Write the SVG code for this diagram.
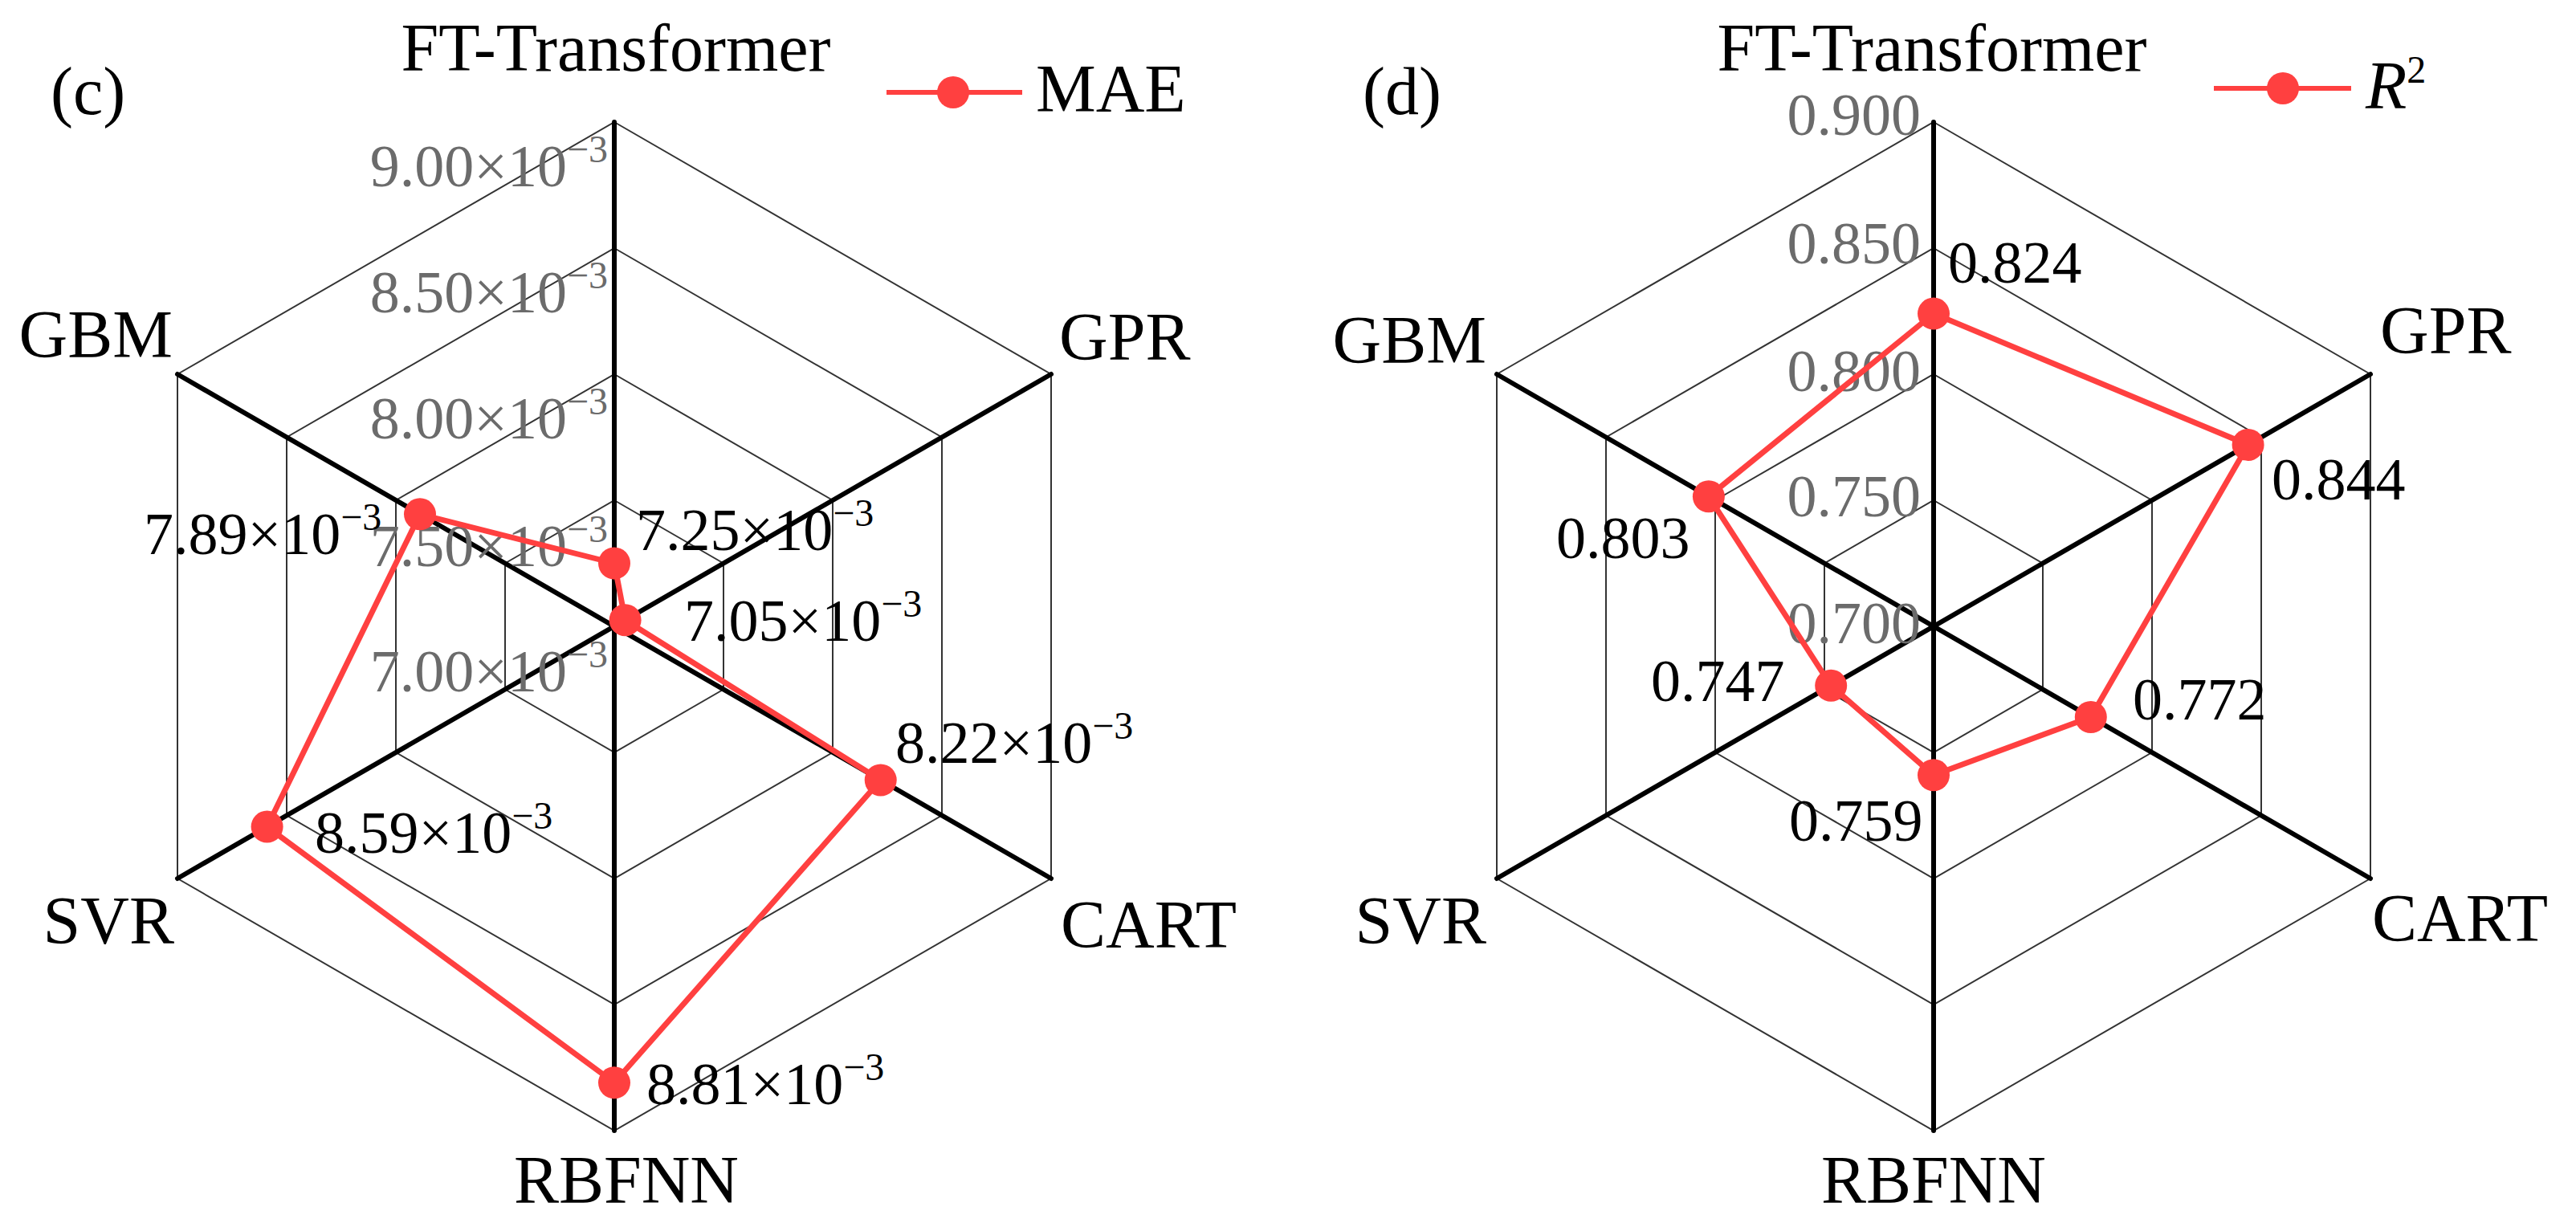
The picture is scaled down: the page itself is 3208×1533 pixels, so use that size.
<svg xmlns="http://www.w3.org/2000/svg" xmlns:xlink="http://www.w3.org/1999/xlink" width="3208" height="1533" viewBox="0 0 3208 1533">
<style>
text{font-family:"Liberation Serif","Times New Roman",serif;fill:#000}
.ax{font-size:84px}
.val{font-size:74px}
.tick{font-size:74px;fill:#6b6b6b;text-anchor:end}
.sup{font-size:48px}
.grid{fill:none;stroke:#333;stroke-width:2}
.axis{stroke:#000;stroke-width:6;stroke-linecap:round}
.series{fill:none;stroke:#ff4040;stroke-width:7;stroke-linejoin:round}
.dot{fill:#ff4040}
</style>
<defs>
<g id="web">
<polygon class="grid" points="0,-157 136,-78.5 136,78.5 0,157 -136,78.5 -136,-78.5"/>
<polygon class="grid" points="0,-314 272,-157 272,157 0,314 -272,157 -272,-157"/>
<polygon class="grid" points="0,-471 408,-235.5 408,235.5 0,471 -408,235.5 -408,-235.5"/>
<polygon class="grid" points="0,-628 544,-314 544,314 0,628 -544,314 -544,-314"/>
<line class="axis" x1="0" y1="-628" x2="0" y2="628"/>
<line class="axis" x1="-544" y1="-314" x2="544" y2="314"/>
<line class="axis" x1="-544" y1="314" x2="544" y2="-314"/>
</g>
</defs>

<g id="chart-c">
<use xlink:href="#web" href="#web" transform="translate(765,780)"/>
<text x="63" y="142" class="ax">(c)</text>
<text x="767" y="88" class="ax" text-anchor="middle">FT-Transformer</text>
<text x="215" y="445" class="ax" text-anchor="end">GBM</text>
<text x="1319" y="448" class="ax">GPR</text>
<text x="217" y="1175" class="ax" text-anchor="end">SVR</text>
<text x="1321" y="1180" class="ax">CART</text>
<text x="780" y="1498" class="ax" text-anchor="middle">RBFNN</text>
<g id="ticks-c">
<text x="757" y="232" class="tick">9.00×10<tspan class="sup" dy="-30">−3</tspan></text>
<text x="757" y="389" class="tick">8.50×10<tspan class="sup" dy="-30">−3</tspan></text>
<text x="757" y="546" class="tick">8.00×10<tspan class="sup" dy="-30">−3</tspan></text>
<text x="757" y="705" class="tick">7.50×10<tspan class="sup" dy="-30">−3</tspan></text>
<text x="757" y="861" class="tick">7.00×10<tspan class="sup" dy="-30">−3</tspan></text>
</g>
<g id="series-c">
<polygon class="series" points="765,701.5 778.6,772.2 1096.7,971.5 765,1348.3 332.6,1029.6 523,640.3"/>
<circle class="dot" cx="765" cy="701.5" r="20"/>
<circle class="dot" cx="778.6" cy="772.2" r="20"/>
<circle class="dot" cx="1096.7" cy="971.5" r="20"/>
<circle class="dot" cx="765" cy="1348.3" r="20"/>
<circle class="dot" cx="332.6" cy="1029.6" r="20"/>
<circle class="dot" cx="523" cy="640.3" r="20"/>
</g>
<text x="179" y="690" class="val">7.89×10<tspan class="sup" dy="-30">−3</tspan></text>
<text x="792" y="685" class="val">7.25×10<tspan class="sup" dy="-30">−3</tspan></text>
<text x="852" y="798" class="val">7.05×10<tspan class="sup" dy="-30">−3</tspan></text>
<text x="1115" y="950" class="val">8.22×10<tspan class="sup" dy="-30">−3</tspan></text>
<text x="392" y="1062" class="val">8.59×10<tspan class="sup" dy="-30">−3</tspan></text>
<text x="805" y="1375" class="val">8.81×10<tspan class="sup" dy="-30">−3</tspan></text>
<g id="legend-c">
<line x1="1104" y1="115" x2="1273" y2="115" stroke="#ff4040" stroke-width="6"/>
<circle class="dot" cx="1187" cy="115" r="20"/>
<text x="1290" y="139" class="ax">MAE</text>
</g>
</g>

<g id="chart-d">
<use xlink:href="#web" href="#web" transform="translate(2408,780)"/>
<text x="1697" y="142" class="ax">(d)</text>
<text x="2406" y="88" class="ax" text-anchor="middle">FT-Transformer</text>
<text x="1851" y="452" class="ax" text-anchor="end">GBM</text>
<text x="2964" y="440" class="ax">GPR</text>
<text x="1851" y="1175" class="ax" text-anchor="end">SVR</text>
<text x="2954" y="1172" class="ax">CART</text>
<text x="2408" y="1498" class="ax" text-anchor="middle">RBFNN</text>
<g id="ticks-d">
<text x="2392" y="168" class="tick">0.900</text>
<text x="2392" y="328" class="tick">0.850</text>
<text x="2392" y="487" class="tick">0.800</text>
<text x="2392" y="643" class="tick">0.750</text>
<text x="2392" y="801" class="tick">0.700</text>
</g>
<g id="series-d">
<polygon class="series" points="2408,390.6 2799.6,553.9 2603.8,893 2408,965.3 2280.2,853.8 2127.9,618.3"/>
<circle class="dot" cx="2408" cy="390.6" r="20"/>
<circle class="dot" cx="2799.6" cy="553.9" r="20"/>
<circle class="dot" cx="2603.8" cy="893" r="20"/>
<circle class="dot" cx="2408" cy="965.3" r="20"/>
<circle class="dot" cx="2280.2" cy="853.8" r="20"/>
<circle class="dot" cx="2127.9" cy="618.3" r="20"/>
</g>
<text x="2426" y="352" class="val">0.824</text>
<text x="2829" y="622" class="val">0.844</text>
<text x="1938" y="695" class="val">0.803</text>
<text x="2056" y="873" class="val">0.747</text>
<text x="2656" y="896" class="val">0.772</text>
<text x="2228" y="1047" class="val">0.759</text>
<g id="legend-d">
<line x1="2757" y1="110" x2="2928" y2="110" stroke="#ff4040" stroke-width="6"/>
<circle class="dot" cx="2843" cy="110" r="20"/>
<text x="2946" y="135" class="ax"><tspan font-style="italic">R</tspan><tspan class="sup" dy="-32">2</tspan></text>
</g>
</g>
</svg>
